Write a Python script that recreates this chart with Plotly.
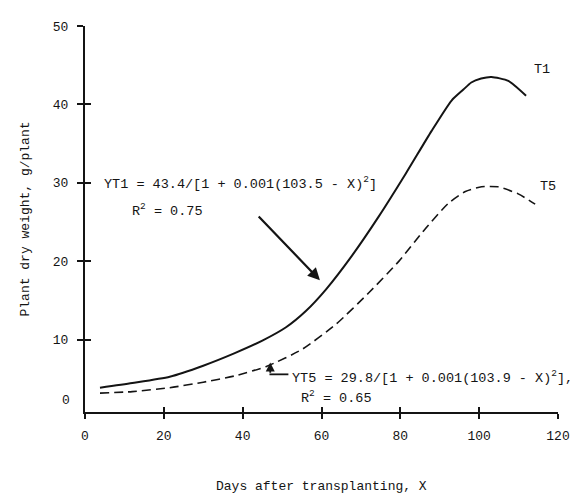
import plotly.graph_objects as go

# ---- data ----
t1_days = [3.8, 12.0, 21.5, 30.0, 38.0, 45.0, 51.0, 56.1, 61.1, 67.7, 74.5, 81.4, 87.9, 93.0, 96.0, 98.0, 100.5, 103.1, 107.4, 111.9]
t1_weight = [3.9, 4.5, 5.3, 6.7, 8.3, 9.9, 11.6, 13.7, 16.4, 20.7, 25.7, 31.2, 36.6, 40.5, 41.9, 42.8, 43.3, 43.5, 43.0, 41.1]

t5_days = [3.8, 12.0, 21.5, 30.0, 38.0, 46.0, 55.1, 63.7, 72.0, 79.6, 86.4, 92.2, 96.5, 100.6, 104.8, 109.9, 114.2]
t5_weight = [3.2, 3.4, 3.9, 4.6, 5.4, 6.6, 8.8, 12.0, 16.0, 20.0, 24.2, 27.4, 28.9, 29.5, 29.5, 28.6, 27.3]

x_ticks = [0, 20, 40, 60, 80, 100, 120]
y_ticks = [10, 20, 30, 40, 50]
x_range = [0, 120]
y_range = [0.8, 50]

x_title = "Days after transplanting, X"
y_title = "Plant dry weight, g/plant"
eq_t1 = "YT1 = 43.4/[1 + 0.001(103.5 - X)<sup>2</sup>]"
r2_t1 = "R<sup>2</sup> = 0.75"
eq_t5 = "YT5 = 29.8/[1 + 0.001(103.9 - X)<sup>2</sup>],"
r2_t5 = "R<sup>2</sup> = 0.65"

INK = "#141414"
MONO = "Liberation Mono"

fig = go.Figure()
fig.add_trace(go.Scatter(x=t1_days, y=t1_weight, mode="lines", name="T1",
                         line=dict(color=INK, width=2, shape="spline", smoothing=0.6),
                         showlegend=False, hoverinfo="skip"))
fig.add_trace(go.Scatter(x=t5_days, y=t5_weight, mode="lines", name="T5",
                         line=dict(color=INK, width=1.6, dash="9px,5px", shape="spline", smoothing=0.6),
                         showlegend=False, hoverinfo="skip"))
# empty trace so the overlay axes (inner half of the crossing ticks) are drawn
fig.add_trace(go.Scatter(x=[], y=[], xaxis="x2", yaxis="y2", showlegend=False, hoverinfo="skip"))

axis_common = dict(showgrid=False, zeroline=False, tickcolor=INK, tickwidth=1.6)

# page body has an 8px default margin, so the figure is 8px smaller than the window
fig.update_layout(
    width=574, height=488,
    margin=dict(l=77, r=22, t=15, b=84),
    paper_bgcolor="white", plot_bgcolor="white",
    font=dict(family=MONO, color=INK, size=13),
    xaxis=dict(range=x_range, tickvals=x_ticks, ticks="outside", ticklen=5,
               showline=True, linecolor=INK, linewidth=2,
               tickfont=dict(family=MONO, size=13, color=INK), ticklabelstandoff=5,
               **axis_common),
    yaxis=dict(range=y_range, tickvals=y_ticks, ticks="outside", ticklen=6,
               showline=True, linecolor=INK, linewidth=2,
               tickfont=dict(family=MONO, size=13, color=INK), ticklabelstandoff=6,
               title=dict(text=y_title, standoff=20,
                          font=dict(family=MONO, size=13, color=INK)),
               **axis_common),
    xaxis2=dict(range=x_range, tickvals=x_ticks[1:], ticks="inside", ticklen=5,
                overlaying="x", anchor="y", showticklabels=False, showline=False,
                **axis_common),
    yaxis2=dict(range=y_range, tickvals=y_ticks, ticks="inside", ticklen=6,
                overlaying="y", anchor="x", side="left", showticklabels=False, showline=False,
                **axis_common),
)

# x-axis title placed near the bottom edge as in the reference
fig.add_annotation(xref="paper", yref="paper", x=0.5, y=-0.193, text=x_title,
                   showarrow=False, xanchor="center", yanchor="middle",
                   font=dict(family=MONO, size=13, color=INK))

ann_font = dict(family=MONO, size=13.5, color=INK)
annotations = [
    dict(x=4.3, y=30.0, text=eq_t1, xanchor="left", yanchor="middle"),
    dict(x=11.4, y=26.6, text=r2_t1, xanchor="left", yanchor="middle"),
    dict(x=52.0, y=5.2, text=eq_t5, xanchor="left", yanchor="middle"),
    dict(x=54.3, y=2.7, text=r2_t5, xanchor="left", yanchor="middle"),
    dict(x=113.3, y=44.4, text="T1", xanchor="left", yanchor="middle"),
    dict(x=114.9, y=29.6, text="T5", xanchor="left", yanchor="middle"),
]
for a in annotations:
    fig.add_annotation(xref="x", yref="y", showarrow=False, font=ann_font, **a)

# "0" label of the y axis sits without a tick beside the axis foot
fig.add_annotation(xref="paper", yref="y", x=-0.027, y=2.3, text="0", showarrow=False,
                   xanchor="right", yanchor="middle", font=dict(family=MONO, size=13, color=INK))

# long arrow from the T1 equation to the solid curve
fig.add_annotation(xref="x", yref="y", axref="x", ayref="y",
                   x=59.6, y=17.6, ax=43.7, ay=25.9, text="", showarrow=True,
                   arrowhead=2, arrowsize=1.1, arrowwidth=2.2, arrowcolor=INK)
# small L-shaped pointer from the T5 equation to the dashed curve
fig.add_annotation(xref="x", yref="y", axref="x", ayref="y",
                   x=47.0, y=7.1, ax=47.0, ay=5.6, text="", showarrow=True,
                   arrowhead=2, arrowsize=1.0, arrowwidth=1.8, arrowcolor=INK)
fig.add_shape(type="line", xref="x", yref="y", x0=46.8, y0=5.6, x1=51.6, y1=5.6,
              line=dict(color=INK, width=1.8))

fig.write_html("out.html")
